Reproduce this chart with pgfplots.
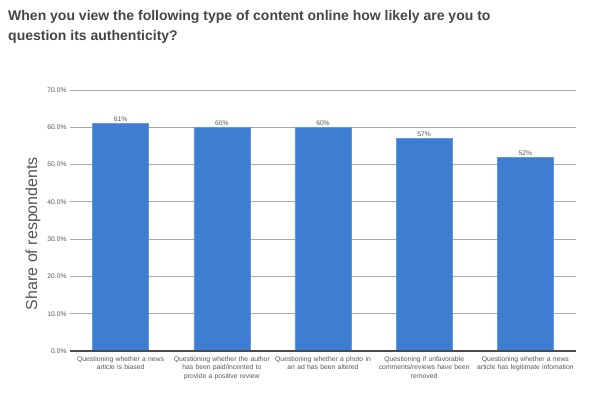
\documentclass[border=0pt]{standalone}
\usepackage{pgfplots}
\pgfplotsset{compat=1.18}
\usepackage{fontspec}
\setmainfont{Liberation Sans}
\definecolor{barblue}{HTML}{3D7DD2}
\definecolor{titlegray}{HTML}{454545}
\definecolor{txtgray}{HTML}{555555}
\definecolor{gridgray}{HTML}{A8A8A8}
\begin{document}
\begin{tikzpicture}
\path[use as bounding box] (0pt,0pt) rectangle (600pt,395pt);
\node[anchor=north west, align=left, font=\fontsize{14}{20}\selectfont\bfseries, text=titlegray, inner sep=0pt] at (8pt,385pt) {When you view the following type of content online how likely are you to\\question its authenticity?};
\begin{axis}[
  at={(70pt,44pt)}, anchor=south west,
  scale only axis, width=506pt, height=261pt,
  xmin=-0.5, xmax=4.5, ymin=0, ymax=70,
  ytick={0,10,...,70},
  yticklabel={\pgfmathprintnumber[fixed,fixed zerofill,precision=1]{\tick}\%},
  /pgf/number format/assume math mode=true,
  yticklabel style={font=\fontsize{6.7}{7}\selectfont, text=txtgray},
  ymajorgrids, grid style={gridgray, line width=0.9pt},
  axis line style={draw=none},
  major tick length=0pt,
  xtick=data,
  xticklabels={{Questioning whether a news\\article is biased},{Questioning whether the author\\has been paid/incented to\\provide a positive review},{Questioning whether a photo in\\an ad has been altered},{Questioning if unfavorable\\comments/reviews have been\\removed},{Questioning whether a news\\article has legitimate infomation}},
  xticklabel style={font=\fontsize{6.8}{8.3}\selectfont, text=txtgray, align=center, text width=110pt, anchor=north, yshift=-2pt},
  ylabel={Share of respondents},
  every axis y label/.style={at={(axis description cs:-0.073,0.45)}, rotate=90, anchor=center, font=\fontsize{16}{17}\selectfont, text=txtgray},
  ybar, bar width=56pt,
  nodes near coords={\pgfmathprintnumber{\pgfplotspointmeta}\%},
  nodes near coords style={font=\fontsize{6.7}{7}\selectfont, text=txtgray, inner sep=1.5pt},
  clip=false,
]
\addplot[fill=barblue, draw=barblue!80!white] coordinates {(0,61) (1,60) (2,60) (3,57) (4,52)};
\draw[black!70, line width=1.2pt] (axis cs:-0.5,0) -- (axis cs:4.5,0);
\end{axis}
\end{tikzpicture}
\end{document}
